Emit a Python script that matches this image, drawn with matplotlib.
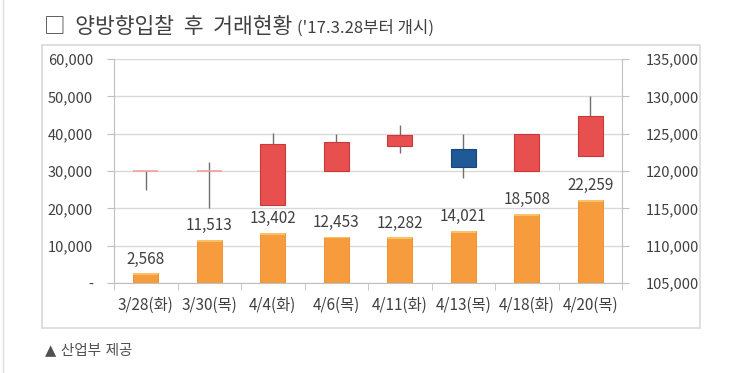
import numpy as np
import matplotlib.pyplot as plt
from matplotlib.patches import Rectangle
from matplotlib.ticker import FuncFormatter

plt.rcParams['font.family'] = ['Noto Sans CJK KR', 'DejaVu Sans']

dates = ['3/28(화)', '3/30(목)', '4/4(화)', '4/6(목)', '4/11(화)', '4/13(목)', '4/18(화)', '4/20(목)']
volume = [2568, 11513, 13402, 12453, 12282, 14021, 18508, 22259]
# 가격 (시가, 고가, 저가, 종가)
p_open = [120000, 120000, 115400, 120000, 123300, 122900, 120000, 121950]
p_high = [120000, 121250, 125150, 125000, 126100, 125000, 125000, 130000]
p_low = [117500, 115000, 115400, 120000, 122400, 119100, 120000, 121950]
p_close = [120000, 120000, 123600, 123900, 124850, 120600, 125000, 127400]

fig = plt.figure(figsize=(7.4, 3.73), dpi=100)
fig.patches.append(Rectangle((42 / 740, 1 - 328 / 373), 658 / 740, 283 / 373,
                             transform=fig.transFigure, fill=False,
                             edgecolor='#d9d9d9', linewidth=1.2))
fig.add_artist(plt.Line2D([3 / 740, 3 / 740], [0, 1], color='#e0e0e0', lw=1))

ax = fig.add_axes([114 / 740, 1 - 283 / 373, 508 / 740, 224 / 373])
x = np.arange(len(dates))

bars = ax.bar(x, volume, width=0.4, color='#f79c3c', edgecolor='#ee8a22', linewidth=0.6, zorder=2)
for xi, v in zip(x, volume):
    ax.bar(xi, 500, bottom=v - 500, width=0.4, color='#fbc06a', linewidth=0, zorder=3)
    ax.text(xi, v + 1500, f'{v:,}', ha='center', va='bottom', fontsize=11, color='#404040')

ax.set_ylim(0, 60000)
ax.set_xlim(-0.5, len(dates) - 0.5)
ax.set_yticks(np.arange(0, 60001, 10000))
ax.yaxis.set_major_formatter(FuncFormatter(lambda v, p: '-' if v == 0 else f'{int(v):,}'))
ax.grid(True, axis='y', color='#d9d9d9', linewidth=1, zorder=0)
ax.set_axisbelow(True)
ax.set_xticks(x)
ax.set_xticklabels(dates)
ax.set_xticks(np.arange(-0.5, len(dates)), minor=True)
ax.tick_params(axis='x', which='major', length=0, pad=10, labelsize=11, labelcolor='#404040')
ax.tick_params(axis='x', which='minor', length=5, color='#bfbfbf')
ax.tick_params(axis='y', length=5, color='#bfbfbf', labelsize=10.5, labelcolor='#404040', pad=10)
for s in ['top', 'right']:
    ax.spines[s].set_visible(False)
ax.spines['left'].set_color('#bfbfbf')
ax.spines['bottom'].set_color('#bfbfbf')

ax2 = ax.twinx()
ax2.set_ylim(105000, 135000)
ax2.set_yticks(np.arange(105000, 135001, 5000))
ax2.yaxis.set_major_formatter(FuncFormatter(lambda v, p: f'{int(v):,}'))
ax2.tick_params(axis='y', length=5, color='#bfbfbf', labelsize=10.5, labelcolor='#404040', pad=12)
for s in ['top', 'left', 'bottom']:
    ax2.spines[s].set_visible(False)
ax2.spines['right'].set_color('#bfbfbf')

for xi, o, h, l, c in zip(x, p_open, p_high, p_low, p_close):
    ax2.vlines(xi, l, h, color='#707070', linewidth=1, zorder=2)
    if o == c:
        ax2.hlines(o, xi - 0.2, xi + 0.2, color='#f0a0a0', linewidth=1.2, zorder=3)
    else:
        col, ec = ('#e85050', '#c83a3a') if c > o else ('#1f5a96', '#17457a')
        ax2.bar(xi, abs(c - o), bottom=min(o, c), width=0.4, color=col, edgecolor=ec,
                linewidth=0.8, zorder=3)

fig.text(44 / 740, 1 - 27 / 373, '□  양방향입찰  후  거래현황', fontsize=15.5, color='#404040', va='center')
fig.text(297 / 740, 1 - 28 / 373, "('17.3.28부터 개시)", fontsize=12, color='#404040', va='center')
fig.text(45 / 740, 1 - 350 / 373, '▲ 산업부 제공', fontsize=10.5, color='#505050', va='center',
         family=['DejaVu Sans', 'Noto Sans CJK KR'])

fig.savefig('out.png', dpi=100)
